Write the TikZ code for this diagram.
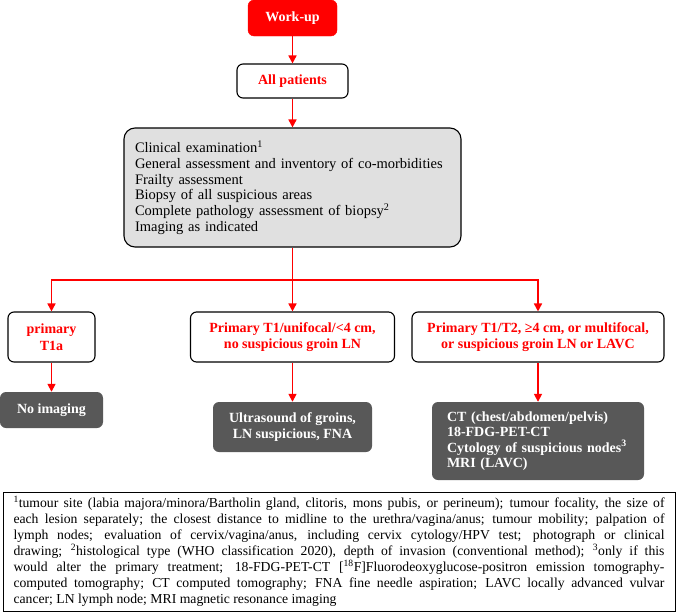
\documentclass[tikz,border=0pt]{standalone}
\usepackage{fontspec}
\setmainfont{Liberation Serif}
\usetikzlibrary{arrows.meta}
\definecolor{flowred}{RGB}{255,0,0}
\definecolor{examgrey}{RGB}{224,224,224}
\definecolor{imgdark}{RGB}{88,88,88}

\begin{document}
\begin{tikzpicture}[x=1pt,y=-1pt,
  redbox/.style={draw=flowred,fill=flowred,rounded corners=6pt,text=white,
    font=\fontsize{14}{16}\selectfont\bfseries},
  groupbox/.style={draw=black,line width=1.1pt,fill=white,rounded corners=6pt,
    text=flowred,align=center,font=\fontsize{14}{16.5}\selectfont\bfseries},
  exambox/.style={draw=black,line width=1.1pt,fill=examgrey,rounded corners=11pt,
    align=left,font=\fontsize{14.5}{15.8}\selectfont},
  darkbox/.style={fill=imgdark,rounded corners=6pt,text=white,
    font=\fontsize{14}{15.5}\selectfont\bfseries},
  notebox/.style={draw=black,line width=0.8pt,align=justify,
    font=\fontsize{13.7}{16}\selectfont},
  link/.style={draw=flowred,line width=1.6pt,-{Triangle[width=8pt,length=8pt]}}]
\useasboundingbox (0,0) rectangle (678,616);

\node[redbox,minimum width=89pt,minimum height=36pt] (workup) at (292.5,18) {Work-up};
\node[groupbox,minimum width=111pt,minimum height=34pt] (allpat) at (292.5,81) {All patients};

\node[exambox,text width=315pt,inner xsep=11pt,minimum height=119pt] (exam) at (292.5,187.5)
  {Clinical examination\textsuperscript{1}\\
   General assessment and inventory of co-morbidities\\
   Frailty assessment\\
   Biopsy of all suspicious areas\\
   Complete pathology assessment of biopsy\textsuperscript{2}\\
   Imaging as indicated};
\coordinate (split) at (292.5,280);

\node[groupbox,minimum width=87pt,minimum height=50pt] (tonea) at (51.5,337) {primary\\T1a};
\node[groupbox,minimum width=204pt,minimum height=50pt] (tone) at (292.5,337)
  {Primary T1/unifocal/<4 cm,\\no suspicious groin LN};
\node[groupbox,minimum width=252pt,minimum height=50pt] (ttwo) at (538,337)
  {Primary T1/T2, ≥4 cm, or multifocal,\\or suspicious groin LN or LAVC};

\node[darkbox,minimum width=103pt,minimum height=36pt] (noimg) at (51.5,410) {No imaging};
\node[darkbox,align=center,minimum width=159pt,minimum height=50pt] (ultra) at (292.5,427)
  {Ultrasound of groins,\\LN suspicious, FNA};
\node[darkbox,align=left,text width=182pt,inner xsep=15pt,minimum height=78pt] (ctpet) at (538,441)
  {CT (chest/abdomen/pelvis)\\
   18-FDG-PET-CT\\
   Cytology of suspicious nodes\textsuperscript{3}\\
   MRI (LAVC)};

\node[notebox,text width=651pt,inner xsep=10.5pt,minimum height=119pt] (notes) at (339,551.5)
  {\textsuperscript{1}tumour site (labia majora/minora/Bartholin gland, clitoris, mons pubis, or perineum); tumour focality, the size of\linebreak
   each lesion separately; the closest distance to midline to the urethra/vagina/anus; tumour mobility; palpation of\linebreak
   lymph nodes; evaluation of cervix/vagina/anus, including cervix cytology/HPV test; photograph or clinical\linebreak
   drawing; \textsuperscript{2}histological type (WHO classification 2020), depth of invasion (conventional method); \textsuperscript{3}only if this\linebreak
   would alter the primary treatment; 18-FDG-PET-CT [\textsuperscript{18}F]Fluorodeoxyglucose-positron emission tomography-\linebreak
   computed tomography; CT computed tomography; FNA fine needle aspiration; LAVC locally advanced vulvar\linebreak
   cancer; LN lymph node; MRI magnetic resonance imaging};

\draw[link] (workup) -- (allpat);
\draw[link] (allpat) -- (exam);
\draw[link,-] (exam) -- (split);
\draw[link] (split) -| (tonea);
\draw[link] (split) -- (tone);
\draw[link] (split) -| (ttwo);
\draw[link] (tonea) -- (noimg);
\draw[link] (tone) -- (ultra);
\draw[link] (ttwo) -- (ctpet);

\end{tikzpicture}
\end{document}
